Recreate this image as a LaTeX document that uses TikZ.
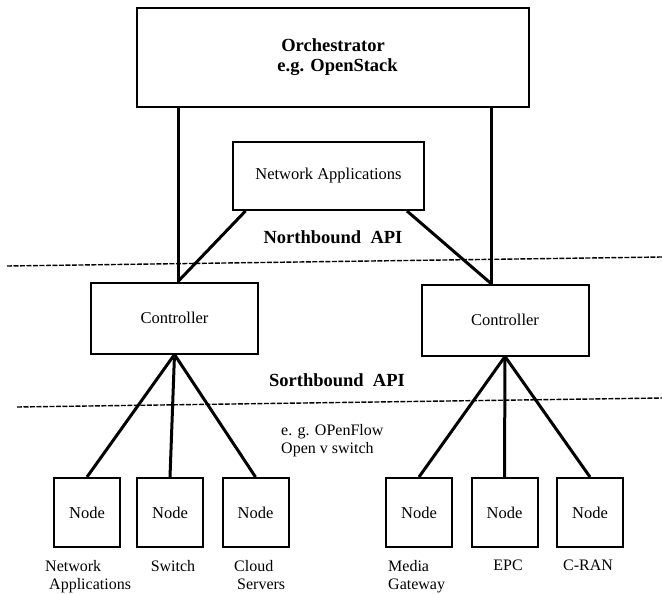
\documentclass[tikz,border=0pt]{standalone}
\usepackage{fontspec}
\setmainfont{Liberation Serif}
\usetikzlibrary{positioning}

\tikzset{
	box/.style={rectangle,draw,line width=2pt,inner sep=0pt,align=center,font=\fontsize{16.5}{19}\selectfont},
	nodebox/.style={box,minimum width=66pt,minimum height=69pt},
	ctlbox/.style={box,minimum width=167pt,minimum height=71pt},
	link/.style={line width=3pt},
	apiline/.style={line width=1.4pt,dash pattern=on 5pt off 1.5pt},
	apitext/.style={font=\fontsize{18.5}{20}\selectfont\bfseries},
	lbl/.style={font=\fontsize{16}{18}\selectfont,align=left,inner sep=0pt}
}

\begin{document}
\begin{tikzpicture}[x=1pt,y=-1pt]
		\useasboundingbox (0,0) rectangle (662,594);

		\draw (333,57.5) node (orch) [box,minimum width=392pt,minimum height=99pt,font=\fontsize{18.5}{20}\selectfont\bfseries] {Orchestrator\\ \ \ e.g. OpenStack};
		\draw (328.5,176) node (napp) [box,minimum width=191pt,minimum height=68pt] {Network Applications};

		\draw (174.5,318) node (ctlL) [ctlbox] {Controller};
		\draw (505,320) node (ctlR) [ctlbox] {Controller};

		\draw (87,512.5) node (n1) [nodebox] {Node};
		\draw (170,512.5) node (n2) [nodebox] {Node};
		\draw (255.5,512.5) node (n3) [nodebox] {Node};
		\draw (419,512.5) node (n4) [nodebox] {Node};
		\draw (504.5,512.5) node (n5) [nodebox] {Node};
		\draw (590,512.5) node (n6) [nodebox] {Node};

		% API boundaries
		\draw[apiline] (7,266) -- (662,257);
		\draw[apiline] (17,407) -- (662,398);
		\draw (333,237) node (north) [apitext] {Northbound\ \ API};
		\draw (337,380) node (south) [apitext] {Sorthbound\ \ API};
		\draw (281,441) node (flow) [lbl,anchor=west] {e. g. OPenFlow\\Open v switch};

		% orchestrator and applications to controllers
		\draw[link] ([xshift=3.5pt]ctlL.north |- orch.south) -- ([xshift=3.5pt]ctlL.north);
		\draw[link] ([xshift=-14pt]ctlR.north |- orch.south) -- ([xshift=-14pt]ctlR.north);
		\draw[link] ([xshift=-83pt]napp.south) -- ([xshift=3.5pt]ctlL.north);
		\draw[link] ([xshift=78.5pt]napp.south) -- ([xshift=-14pt]ctlR.north);

		% controllers to nodes
		\foreach \n in {n1,n2,n3} \draw[link] (ctlL.south) -- (\n.north);
		\foreach \n in {n4,n5,n6} \draw[link] (ctlR.south) -- (\n.north);

		\draw (45,560) node (l1) [lbl,anchor=north west] {Network\\\hspace*{4pt}Applications};
		\draw (173,560) node (l2) [lbl,anchor=north] {Switch};
		\draw (234,560) node (l3) [lbl,anchor=north west] {Cloud\\\hspace*{3pt}Servers};
		\draw (388,560) node (l4) [lbl,anchor=north west] {Media\\Gateway};
		\draw (508,560) node (l5) [lbl,anchor=north] {EPC};
		\draw (588,560) node (l6) [lbl,anchor=north] {C-RAN};
\end{tikzpicture}
\end{document}
